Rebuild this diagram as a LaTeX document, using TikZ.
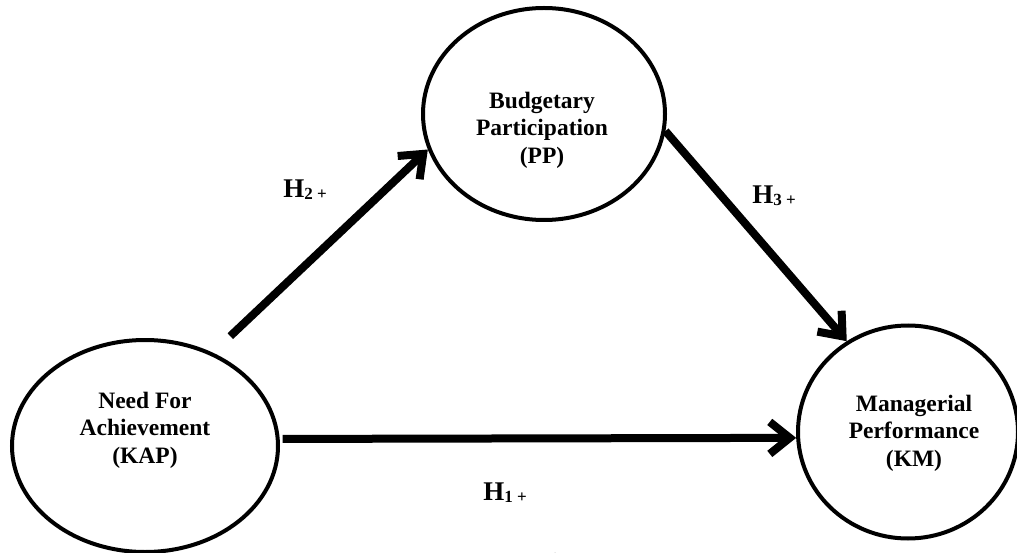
\documentclass[tikz,border=0pt]{standalone}
\usepackage{fontspec}
\setmainfont{Liberation Serif}
\usetikzlibrary{arrows.meta,shapes.geometric}

\begin{document}
\begin{tikzpicture}[x=1pt,y=-1pt,
  varblob/.style={draw,ellipse,line width=4pt,inner sep=0pt},
  vartext/.style={align=center,font=\fontsize{23.5}{27.5}\selectfont\bfseries},
  hyparrow/.style={line width=8pt,-{Straight Barb[length=20pt,width=32pt]}},
  hyptext/.style={font=\fontsize{27}{27}\selectfont\bfseries}]
\useasboundingbox (0,0) rectangle (1017,553);

%Shape: Ellipse [KAP]
\node [varblob,minimum width=266,minimum height=212] (kap) at (145,446) {};
%Shape: Ellipse [PP]
\node [varblob,minimum width=242,minimum height=212] (pp) at (544,114) {};
%Shape: Ellipse [KM]
\node [varblob,minimum width=220,minimum height=213] (km) at (908,432) {};

% Text Node
\node [vartext] (kaptxt) at ([yshift=16pt]kap.center) {Need For\\Achievement\\(KAP)};
% Text Node
\node [vartext] (pptxt) at ([xshift=-2pt,yshift=-16pt]pp.center) {Budgetary\\Participation\\(PP)};
% Text Node
\node [vartext] (kmtxt) at ([xshift=6pt,yshift=-1pt]km.center) {Managerial\\Performance\\(KM)};

%Straight Lines [H1]
\draw [hyparrow,shorten <=3pt] (kap.3) -- (km.183);
%Straight Lines [H2]
\draw [hyparrow,shorten <=24pt] (kap.54) -- (pp.197);
%Straight Lines [H3]
\draw [hyparrow] (pp.-8) -- (km.124);

% Text Node
\node [hyptext] (h1) at (505,493) {H{\fontsize{17}{17}\selectfont\raisebox{-2pt}{1 +}}};
% Text Node
\node [hyptext] (h2) at (305,190) {H{\fontsize{17}{17}\selectfont\raisebox{-2pt}{2 +}}};
% Text Node
\node [hyptext] (h3) at (774,196) {H{\fontsize{17}{17}\selectfont\raisebox{-2pt}{3 +}}};

% Text Node
\node [anchor=north,text=gray,font=\fontsize{22}{22}\selectfont\bfseries] (fig) at (578,550) {Figure 1};

\end{tikzpicture}
\end{document}
